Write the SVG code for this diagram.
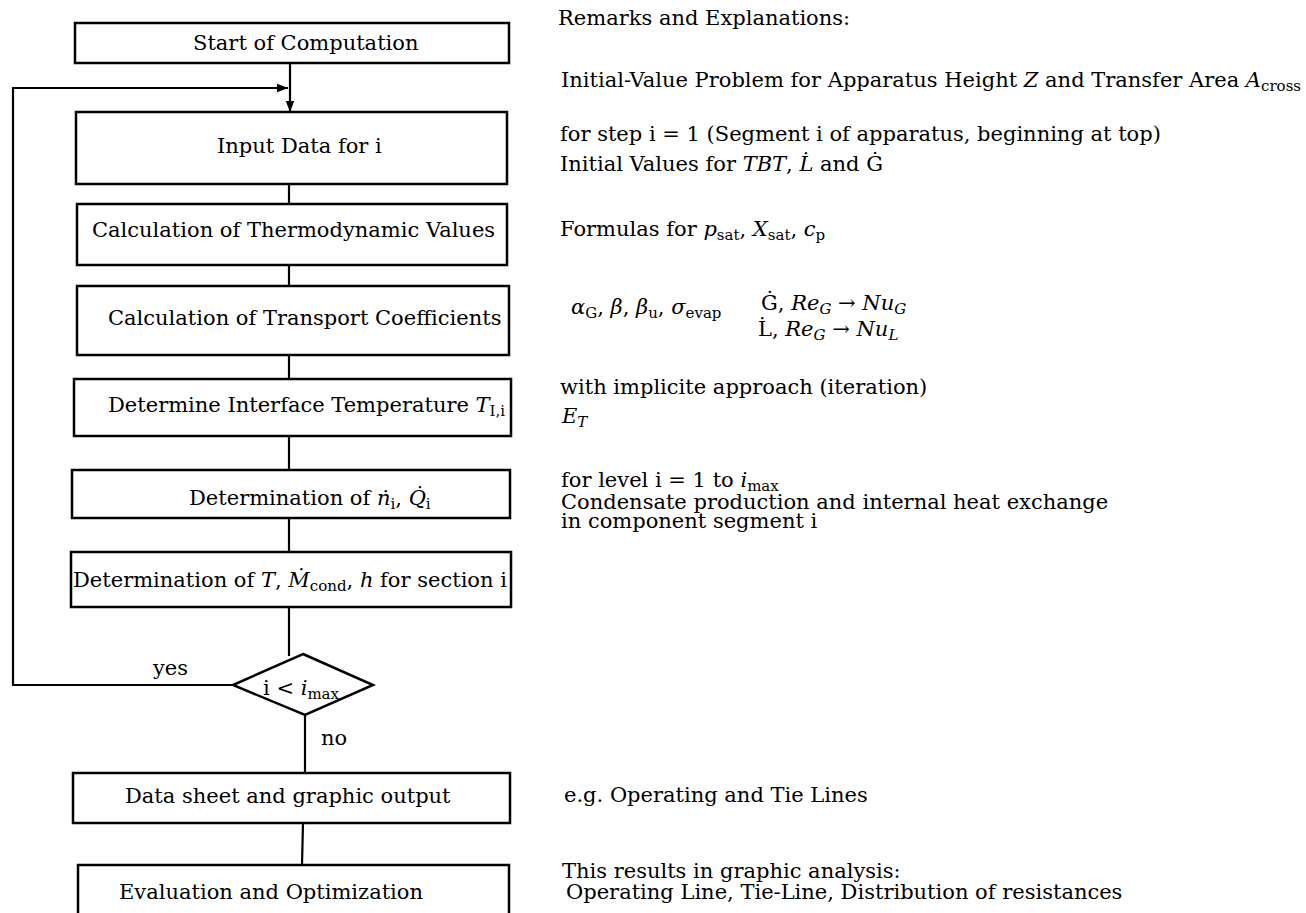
<svg xmlns="http://www.w3.org/2000/svg" width="1306" height="913" viewBox="0 0 1306 913">
<style>
.t{font-family:"DejaVu Serif","Liberation Serif",serif;font-size:21px;fill:#000}
.i{font-style:italic}
.s{font-size:15px}
.box{fill:#fff;stroke:#000;stroke-width:2.5}
.ln{fill:none;stroke:#000;stroke-width:2.2}
</style>
<defs>
<marker id="ah" markerUnits="userSpaceOnUse" markerWidth="12" markerHeight="10" refX="11" refY="5" orient="auto">
<path d="M0,0.8 L11,5 L0,9.2 Z" fill="#000"/>
</marker>
</defs>
<rect width="1306" height="913" fill="#fff"/>
<g id="connectors">
<line class="ln" x1="290" y1="63" x2="290" y2="112" marker-end="url(#ah)"/>
<polyline class="ln" points="233,685 13,685 13,88 288,88" marker-end="url(#ah)"/>
<line class="ln" x1="289" y1="184" x2="289" y2="204"/>
<line class="ln" x1="289" y1="265" x2="289" y2="286"/>
<line class="ln" x1="289" y1="355" x2="289" y2="379"/>
<line class="ln" x1="289" y1="436" x2="289" y2="470"/>
<line class="ln" x1="289" y1="518" x2="289" y2="552"/>
<line class="ln" x1="289" y1="607" x2="289" y2="656"/>
<line class="ln" x1="305" y1="715" x2="305" y2="773"/>
<line class="ln" x1="303" y1="823" x2="302" y2="865"/>
<text class="t" x="153" y="675">yes</text>
<text class="t" x="321" y="745">no</text>
</g>
<g id="start">
<rect class="box" x="75" y="23" width="434" height="40"/>
<text class="t" x="193" y="50">Start of Computation</text>
</g>
<g id="input">
<rect class="box" x="76" y="112" width="431" height="72"/>
<text class="t" x="217" y="153">Input Data for i</text>
</g>
<g id="thermo">
<rect class="box" x="77" y="204" width="430" height="61"/>
<text class="t" x="92" y="237">Calculation of Thermodynamic Values</text>
</g>
<g id="transport">
<rect class="box" x="77" y="286" width="432" height="69"/>
<text class="t" x="108" y="325">Calculation of Transport Coefficients</text>
</g>
<g id="interface">
<rect class="box" x="74" y="379" width="437" height="57"/>
<text class="t" x="108" y="412">Determine Interface Temperature <tspan class="i">T</tspan><tspan class="s" dy="4">I,i</tspan></text>
</g>
<g id="rates">
<rect class="box" x="72" y="470" width="438" height="48"/>
<text class="t" x="189" y="505">Determination of <tspan class="i">ṅ</tspan><tspan class="s" dy="4">i</tspan><tspan dy="-4">, </tspan><tspan class="i">Q&#x307;</tspan><tspan class="s" dy="4">i</tspan></text>
</g>
<g id="section">
<rect class="box" x="71" y="552" width="440" height="55"/>
<text class="t" x="73" y="587">Determination of <tspan class="i">T</tspan>, <tspan class="i">Ṁ</tspan><tspan class="s" dy="4">cond</tspan><tspan dy="-4">, </tspan><tspan class="i">h</tspan> for section i</text>
</g>
<g id="decision">
<polygon class="box" points="303,654 373,685 305,715 233,685"/>
<text class="t" x="263" y="695">i &lt; <tspan class="i">i</tspan><tspan class="s" dy="4">max</tspan></text>
</g>
<g id="datasheet">
<rect class="box" x="73" y="773" width="437" height="50"/>
<text class="t" x="125" y="803">Data sheet and graphic output</text>
</g>
<g id="evaluation">
<rect class="box" x="78" y="865" width="431" height="60"/>
<text class="t" x="119" y="899">Evaluation and Optimization</text>
</g>
<g id="remarks">
<text class="t" x="558" y="25">Remarks and Explanations:</text>
<text class="t" x="561" y="87">Initial-Value Problem for Apparatus Height <tspan class="i">Z</tspan> and Transfer Area <tspan class="i">A</tspan><tspan class="s" dy="4">cross</tspan></text>
<text class="t" x="560" y="141">for step i = 1 (Segment i of apparatus, beginning at top)</text>
<text class="t" x="560" y="171">Initial Values for <tspan class="i">TBT</tspan>, <tspan class="i">L&#x307;</tspan> and Ġ</text>
<text class="t" x="560" y="236">Formulas for <tspan class="i">p</tspan><tspan class="s" dy="4">sat</tspan><tspan dy="-4">, </tspan><tspan class="i">X</tspan><tspan class="s" dy="4">sat</tspan><tspan dy="-4">, </tspan><tspan class="i">c</tspan><tspan class="s" dy="4">p</tspan></text>
<text class="t" x="571" y="314"><tspan class="i">α</tspan><tspan class="s" dy="4">G</tspan><tspan dy="-4">, </tspan><tspan class="i">β</tspan>, <tspan class="i">β</tspan><tspan class="s" dy="4">u</tspan><tspan dy="-4">, </tspan><tspan class="i">σ</tspan><tspan class="s" dy="4">evap</tspan></text>
<text class="t" x="761" y="310">Ġ, <tspan class="i">Re</tspan><tspan class="s i" dy="4">G</tspan><tspan dy="-4"> → </tspan><tspan class="i">Nu</tspan><tspan class="s i" dy="4">G</tspan></text>
<text class="t" x="758" y="336">L&#x307;, <tspan class="i">Re</tspan><tspan class="s i" dy="4">G</tspan><tspan dy="-4"> → </tspan><tspan class="i">Nu</tspan><tspan class="s i" dy="4">L</tspan></text>
<text class="t" x="560" y="394">with implicite approach (iteration)</text>
<text class="t" x="562" y="423"><tspan class="i">E</tspan><tspan class="s i" dy="4">T</tspan></text>
<text class="t" x="561" y="487">for level i = 1 to <tspan class="i">i</tspan><tspan class="s" dy="4">max</tspan></text>
<text class="t" x="561" y="509">Condensate production and internal heat exchange</text>
<text class="t" x="561" y="528">in component segment i</text>
<text class="t" x="564" y="802">e.g. Operating and Tie Lines</text>
<text class="t" x="562" y="878">This results in graphic analysis:</text>
<text class="t" x="566" y="899">Operating Line, Tie-Line, Distribution of resistances</text>
</g>
</svg>
